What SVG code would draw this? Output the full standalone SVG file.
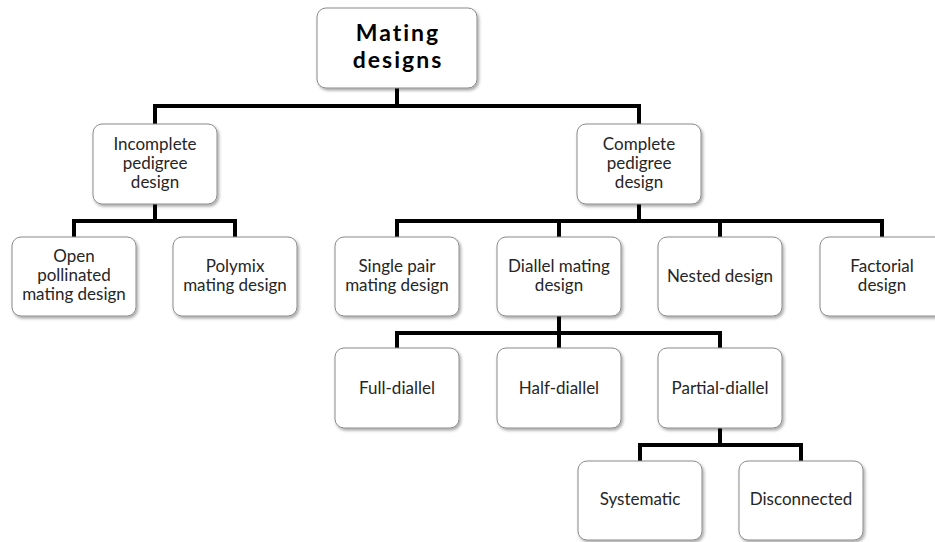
<svg xmlns="http://www.w3.org/2000/svg" width="935" height="542" viewBox="0 0 935 542">
<defs>
<filter id="sh" x="-10%" y="-10%" width="125%" height="130%">
<feDropShadow dx="1.5" dy="2" stdDeviation="1.5" flood-color="#000" flood-opacity="0.35"/>
</filter>
<style>
.box{fill:#fff;stroke:#8a8a8a;stroke-width:1;filter:url(#sh)}
.t{font-family:Lato,"Liberation Sans",sans-serif;font-size:17px;fill:#262626;text-anchor:middle}
.title{font-family:Lato,"Liberation Sans",sans-serif;font-size:23px;font-weight:bold;fill:#000;text-anchor:middle;letter-spacing:2px}
.c{fill:none;stroke:#000;stroke-width:4;stroke-linejoin:miter}
</style>
</defs>
<rect width="935" height="542" fill="#fff"/>
<g id="connectors">
<path class="c" d="M397,88V106M155,124V106H639V124"/>
<path class="c" d="M155,204V221M74,237V221H235V237"/>
<path class="c" d="M639,204V221M397,237V221H882V237M559,221V237M720,221V237"/>
<path class="c" d="M559,316V333M397,348V333H720V348M559,333V348"/>
<path class="c" d="M720,428V445M640,461V445H801V461"/>
</g>
<g id="root"><rect class="box" x="317" y="8" width="160" height="80" rx="9"/>
<text class="title" x="398" y="41">Mating</text><text class="title" x="398" y="68">designs</text></g>
<g id="incomplete"><rect class="box" x="93" y="124" width="124" height="80" rx="9"/>
<text class="t" x="155" y="150">Incomplete</text><text class="t" x="155" y="169">pedigree</text><text class="t" x="155" y="188">design</text></g>
<g id="complete"><rect class="box" x="577" y="124" width="124" height="80" rx="9"/>
<text class="t" x="639" y="150">Complete</text><text class="t" x="639" y="169">pedigree</text><text class="t" x="639" y="188">design</text></g>
<g id="open"><rect class="box" x="12" y="237" width="124" height="79" rx="9"/>
<text class="t" x="74" y="262">Open</text><text class="t" x="74" y="281">pollinated</text><text class="t" x="74" y="300">mating design</text></g>
<g id="polymix"><rect class="box" x="173" y="237" width="124" height="79" rx="9"/>
<text class="t" x="235" y="272">Polymix</text><text class="t" x="235" y="291">mating design</text></g>
<g id="singlepair"><rect class="box" x="335" y="237" width="124" height="79" rx="9"/>
<text class="t" x="397" y="272">Single pair</text><text class="t" x="397" y="291">mating design</text></g>
<g id="diallel"><rect class="box" x="497" y="237" width="124" height="79" rx="9"/>
<text class="t" x="559" y="272">Diallel mating</text><text class="t" x="559" y="291">design</text></g>
<g id="nested"><rect class="box" x="658" y="237" width="124" height="79" rx="9"/>
<text class="t" x="720" y="282">Nested design</text></g>
<g id="factorial"><rect class="box" x="820" y="237" width="124" height="79" rx="9"/>
<text class="t" x="882" y="272">Factorial</text><text class="t" x="882" y="291">design</text></g>
<g id="full"><rect class="box" x="335" y="348" width="124" height="80" rx="9"/>
<text class="t" x="397" y="394">Full-diallel</text></g>
<g id="half"><rect class="box" x="497" y="348" width="124" height="80" rx="9"/>
<text class="t" x="559" y="394">Half-diallel</text></g>
<g id="partial"><rect class="box" x="658" y="348" width="124" height="80" rx="9"/>
<text class="t" x="720" y="394">Partial-diallel</text></g>
<g id="systematic"><rect class="box" x="578" y="461" width="124" height="79" rx="9"/>
<text class="t" x="640" y="505">Systematic</text></g>
<g id="disconnected"><rect class="box" x="739" y="461" width="124" height="79" rx="9"/>
<text class="t" x="801" y="505">Disconnected</text></g>
</svg>
